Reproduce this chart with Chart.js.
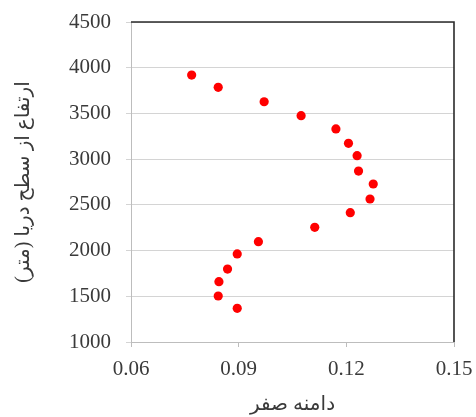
<!DOCTYPE html>
<html>
<head>
<meta charset="utf-8">
<script src="https://cdn.jsdelivr.net/npm/chart.js@4/dist/chart.umd.min.js"></script>
<style>
    html, body { margin: 0; padding: 0; background: #fff; }
    #wrap { width: 476px; height: 417px; }
</style>
</head>
<body>
<div id="wrap"><canvas id="chart" width="476" height="417"></canvas></div>
<script>
    // values
    var zeroAmplitude = [0.0769, 0.0843, 0.0971, 0.1074, 0.1171, 0.1206, 0.1230, 0.1234, 0.1275,
        0.1266, 0.1211, 0.1112, 0.0955, 0.0896, 0.0869, 0.0845, 0.0843, 0.0896];
    var elevation = [3920, 3786, 3628, 3475, 3330, 3173, 3038, 2870, 2728,
        2564, 2415, 2254, 2097, 1963, 1798, 1660, 1503, 1368];
    var xTicks = [0.06, 0.09, 0.12, 0.15];
    var xTickLabels = ['0.06', '0.09', '0.12', '0.15'];
    var yTicks = [1000, 1500, 2000, 2500, 3000, 3500, 4000, 4500];
    var yTickLabels = ['1000', '1500', '2000', '2500', '3000', '3500', '4000', '4500'];
    var xTitle = 'دامنه صفر';
    var yTitle = 'ارتفاع از سطح دریا (متر)';

    var points = [];
    for (var i = 0; i < zeroAmplitude.length; i++) {
        points.push({ x: zeroAmplitude[i], y: elevation[i] });
    }

    var tickFont = { family: '"Liberation Serif", "DejaVu Serif", serif', size: 21 };
    var titleFont = { family: '"Liberation Serif", "DejaVu Sans", sans-serif', size: 20 };
    var textColor = '#3a3a3a';

    // black frame on top and right side of the plot, like the original
    var framePlugin = {
        id: 'frame',
        afterDatasetsDraw: function (chart) {
            var a = chart.chartArea;
            var ctx = chart.ctx;
            ctx.save();
            ctx.strokeStyle = '#2b2b2b';
            ctx.lineWidth = 1.6;
            ctx.beginPath();
            ctx.moveTo(a.left, a.top);
            ctx.lineTo(a.right, a.top);
            ctx.lineTo(a.right, a.bottom);
            ctx.stroke();
            ctx.restore();
        }
    };

    new Chart(document.getElementById('chart').getContext('2d'), {
        type: 'scatter',
        data: {
            datasets: [{
                data: points,
                backgroundColor: '#ff0000',
                borderColor: '#ff0000',
                borderWidth: 0,
                pointRadius: 4.6,
                pointHoverRadius: 4.6
            }]
        },
        options: {
            responsive: false,
            animation: false,
            layout: { padding: { top: 22, right: 22, left: 0, bottom: 0 } },
            plugins: {
                legend: { display: false },
                tooltip: { enabled: false }
            },
            scales: {
                x: {
                    type: 'linear',
                    min: 0.06,
                    max: 0.15,
                    afterBuildTicks: function (scale) {
                        scale.ticks = xTicks.map(function (v) { return { value: v }; });
                    },
                    afterFit: function (scale) {
                        scale.height = 75;
                        // labels may overflow the plot sides, keep the plot size fixed
                        scale.paddingLeft = 0;
                        scale.paddingRight = 0;
                    },
                    ticks: {
                        font: tickFont,
                        color: textColor,
                        padding: 10,
                        maxRotation: 0,
                        callback: function (v, idx) { return xTickLabels[idx]; }
                    },
                    grid: {
                        drawOnChartArea: false,
                        drawTicks: true,
                        tickLength: 5,
                        color: '#bdbdbd'
                    },
                    border: { color: '#bdbdbd', width: 1 },
                    title: {
                        display: true,
                        text: xTitle,
                        font: titleFont,
                        color: textColor,
                        padding: { top: 0, bottom: 0 }
                    }
                },
                y: {
                    type: 'linear',
                    min: 1000,
                    max: 4500,
                    afterBuildTicks: function (scale) {
                        scale.ticks = yTicks.map(function (v) { return { value: v }; });
                    },
                    afterFit: function (scale) {
                        scale.width = 131;
                        scale.paddingTop = 0;
                        scale.paddingBottom = 0;
                    },
                    ticks: {
                        font: tickFont,
                        color: textColor,
                        padding: 15,
                        callback: function (v, idx) { return yTickLabels[idx]; }
                    },
                    grid: {
                        color: '#d4d4d4',
                        lineWidth: 1,
                        drawTicks: true,
                        tickLength: 5
                    },
                    border: { color: '#bdbdbd', width: 1 },
                    title: {
                        display: true,
                        text: yTitle,
                        font: titleFont,
                        color: textColor,
                        padding: { top: 12, bottom: 0 }
                    }
                }
            }
        },
        plugins: [framePlugin]
    });
</script>
</body>
</html>
